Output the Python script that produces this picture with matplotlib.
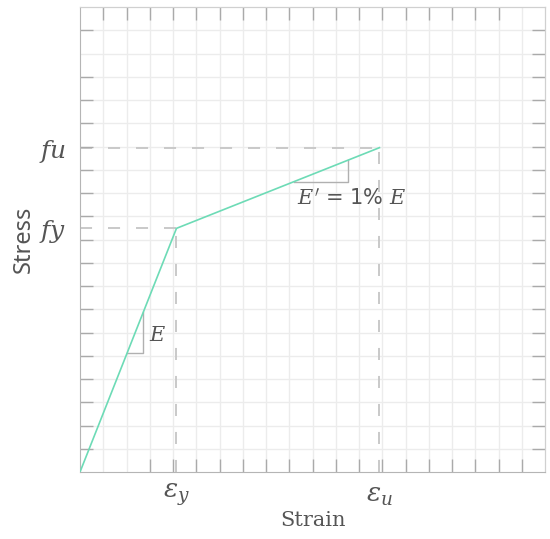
import numpy as np
import matplotlib.pyplot as plt

plt.rcParams['mathtext.fontset'] = 'dejavuserif'

# schematic bilinear stress-strain curve (grid units)
strain = [0.0, 4.15, 12.88]
stress = [0.0, 10.48, 13.95]
eps_y, eps_u = strain[1], strain[2]
f_y, f_u = stress[1], stress[2]

x_ticks_labels = [r'$\varepsilon_y$', r'$\varepsilon_u$']
y_ticks_labels = [r'$fu$', r'$fy$']

# slope triangles: (x start, x corner)
tri_E = (2.03, 2.72)
tri_E2 = (9.2, 11.53)

# tick marks on each side
bottom_ticks = list(range(3, 20))
top_ticks = list(range(1, 19))
left_ticks = [t for t in range(1, 20) if t != 18]
right_ticks = list(range(1, 20))

line_col = '#6ddbb6'
dash_col = '#c9c9c9'
text_col = '#555555'
tick_col = '#aaaaaa'


def on_line(x):
    return np.interp(x, strain, stress)


fig = plt.figure(figsize=(5.5, 5.39), dpi=100)
ax = fig.add_axes([80/550, 1 - 472/539, 465/550, 465/539])
ax.set_xlim(0, 20)
ax.set_ylim(0, 20)

# grid
for g in range(1, 20):
    ax.axvline(g, color='#ececec', lw=1, zorder=0)
    ax.axhline(g, color='#ececec', lw=1, zorder=0)

# dashed guides
dash = dict(color=dash_col, lw=1.4, dashes=(6.2, 8.2), zorder=1)
ax.plot([0, eps_y], [f_y, f_y], **dash)
ax.plot([eps_y, eps_y], [0, f_y], **dash)
ax.plot([0, eps_u], [f_u, f_u], **dash)
ax.plot([eps_u, eps_u], [0, f_u], **dash)

# curve
ax.plot(strain, stress, color=line_col, lw=1.2, zorder=3)

# slope triangles
for x0, x1 in (tri_E, tri_E2):
    ax.plot([x0, x1, x1], [on_line(x0), on_line(x0), on_line(x1)],
            color='#b0b0b0', lw=1, zorder=2)

ax.text(2.98, 5.9, r'$E$', fontsize=15, color=text_col, va='center', ha='left')
ax.text(9.35, 11.75, r"$E'$ = 1% $E$", fontsize=15, color=text_col,
        family='DejaVu Sans', va='center', ha='left')

# labelled ticks
ax.set_xticks([eps_y, eps_u])
ax.set_xticklabels(x_ticks_labels, fontsize=19, color=text_col)
ax.set_yticks([f_u, f_y])
ax.set_yticklabels(y_ticks_labels, fontsize=18, color=text_col)
ax.tick_params(length=0, pad=7)
ax.tick_params(axis='y', pad=10)

# inward tick marks on all four sides
ax.set_xticks(bottom_ticks, minor=True)
ax.set_yticks(left_ticks, minor=True)
ax.tick_params(which='minor', direction='in', length=9.4, width=1, color=tick_col)
top = ax.secondary_xaxis('top')
top.set_xticks(top_ticks)
top.tick_params(direction='in', length=9.4, width=1, color=tick_col, labeltop=False)
right = ax.secondary_yaxis('right')
right.set_yticks(right_ticks)
right.tick_params(direction='in', length=9.4, width=1, color=tick_col, labelright=False)
for a in (top, right):
    for s in a.spines.values():
        s.set_color('#d0d0d0')

for s in ('left', 'bottom'):
    ax.spines[s].set_color('#b5b5b5')
for s in ('top', 'right'):
    ax.spines[s].set_color('#d0d0d0')

ax.set_xlabel('Strain', fontsize=15, family='DejaVu Serif', color=text_col, labelpad=2)
ax.set_ylabel('Stress', fontsize=17, family='Noto Sans', color=text_col, labelpad=2)

fig.savefig('out.png', dpi=100)
